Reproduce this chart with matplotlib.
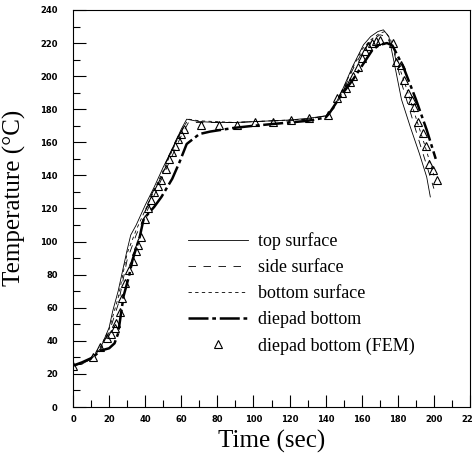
import matplotlib
matplotlib.use("Agg")
import matplotlib.pyplot as plt
from matplotlib.ticker import MultipleLocator

top_t = [0, 5, 10, 15, 20, 22, 25, 30, 32, 35, 40, 45, 50, 55, 60, 63, 70, 80, 90, 100,
         110, 120, 130, 140, 144, 149, 155, 161, 165, 169, 172, 175, 178, 182, 187, 192, 196, 198]
top_T = [25, 26, 29, 35, 48, 58, 70, 95, 104, 110, 122, 133, 145, 156, 168, 174, 172.5, 172, 172, 172.5,
         173, 173.5, 174.5, 176, 180, 191, 206, 219, 224, 227, 228, 224, 208, 186, 169, 153, 139, 127]

side_t = [0, 5, 10, 15, 20, 25, 30, 35, 40, 45, 50, 55, 60, 64, 70, 80, 90, 100,
          110, 120, 130, 140, 145, 150, 155, 160, 165, 170, 174, 178, 182, 187, 192, 196, 200]
side_T = [25, 26, 29, 34, 45, 62, 89, 104, 116, 128, 140, 152, 164, 172, 172, 172, 172, 172.5,
          173, 173, 174, 176, 181, 192, 204, 214, 221, 225, 224, 214, 196, 178, 160, 146, 132]

bot_t = [0, 5, 10, 15, 20, 25, 30, 35, 40, 45, 50, 55, 60, 64, 70, 80, 90, 100,
         110, 120, 130, 140, 145, 150, 155, 160, 165, 170, 173, 176, 180, 185, 190, 195, 200]
bot_T = [25, 26, 30, 36, 47, 66, 93, 107, 119, 131, 143, 155, 167, 174, 173, 172.5, 172, 172.5,
         173, 173.5, 174, 176, 182, 193, 205, 216, 222, 226, 227, 222, 208, 192, 175, 158, 140]

pad_t = [0, 5, 11, 15, 20, 23, 25, 28, 31, 33, 37, 39, 41, 45, 49, 55, 59, 63, 70, 76, 89,
         100, 110, 120, 130, 140, 142, 148, 155, 161, 166, 170, 174, 177, 183, 190, 196, 201]
pad_T = [25, 27, 30, 34, 35.5, 38.5, 44.5, 67, 79, 89, 103, 113, 116, 121, 127, 138, 148, 159, 165, 166.5, 168.7,
         170, 171, 172, 173, 175, 177.5, 187.5, 197.7, 207.7, 216, 219, 220, 218.5, 205.7, 186, 167.5, 150]

# FEM result for the diepad bottom
fem_t = [0, 11, 15, 19, 21, 23, 24, 26, 27, 29, 31, 33, 35, 36, 37.5, 40, 41.5, 43, 45, 47, 48.7,
         51.5, 53.3, 54.6, 56.5, 58.3, 59.8, 61.5, 71, 81, 91, 101, 111, 121, 131, 141.5,
         146.4, 148.8, 151.5, 153.5, 155.3, 158, 160, 162, 163.6, 165.5, 168, 170,
         177.5, 178.8, 181.5, 183.4, 185.4, 187.6, 189, 191.3, 193.7, 195.6, 197.4, 199.3, 201.5]
fem_T = [25, 30, 36, 41.5, 44, 47.7, 51, 57.6, 65.7, 75, 82.8, 88.5, 94.5, 98, 103, 113.5, 120, 125, 130, 133.6, 137,
         144, 150, 154, 158, 161.8, 165, 168, 170.5, 170.5, 170.5, 172, 172.5, 173.5, 175, 176.5,
         186.6, 190, 193, 196.7, 200, 205.7, 211, 215, 218, 220, 221.4, 222,
         220, 208.8, 206.8, 197.7, 189.6, 185.6, 181.5, 172, 165.5, 157.8, 147, 143, 137]

plt.rcParams['font.family'] = ['Liberation Serif', 'DejaVu Serif']

fig = plt.figure(figsize=(4.72, 4.54), dpi=100)
ax = fig.add_axes([0.1547, 0.1035, 0.8411, 0.8745])

ax.plot(top_t, top_T, color='black', lw=0.6, label='top surface')
ax.plot(side_t, side_T, color='black', lw=0.6, dashes=(9, 9), label='side surface')
ax.plot(bot_t, bot_T, color='black', lw=0.6, dashes=(4, 4), label='bottom surface')
ax.plot(pad_t, pad_T, color='black', lw=1.8, dashes=(8, 1.5, 1.5, 1.5), label='diepad bottom')
ax.plot(fem_t, fem_T, linestyle='none', marker='^', ms=6, mfc='none', mec='black', mew=0.8,
        label='diepad bottom (FEM)')

ax.set_xlim(0, 220)
ax.set_ylim(0, 240)
ax.xaxis.set_major_locator(MultipleLocator(20))
ax.xaxis.set_minor_locator(MultipleLocator(10))
ax.yaxis.set_major_locator(MultipleLocator(20))
ax.yaxis.set_minor_locator(MultipleLocator(10))
ax.tick_params(which='major', direction='in', length=9, width=0.8, labelsize=6)
ax.tick_params(which='minor', direction='in', length=5, width=0.8)
ax.tick_params(axis='y', which='major', pad=11)
ax.tick_params(axis='x', which='major', pad=6)
for lab in ax.get_xticklabels() + ax.get_yticklabels():
    lab.set_fontfamily('DejaVu Sans')
    lab.set_fontweight('bold')
for sp in ax.spines.values():
    sp.set_linewidth(0.8)

ax.set_xlabel('Time (sec)', fontsize=18, labelpad=4)
ax.set_ylabel('Temperature (\u00b0C)', fontsize=18)
ax.yaxis.set_label_coords(-0.118, 0.526)

ax.legend(loc='upper left', bbox_to_anchor=(0.29, 0.44), frameon=False, fontsize=13,
          handlelength=3.3, handletextpad=0.55, labelspacing=0.5, borderpad=0, borderaxespad=0)

fig.savefig('out.png', dpi=100)
